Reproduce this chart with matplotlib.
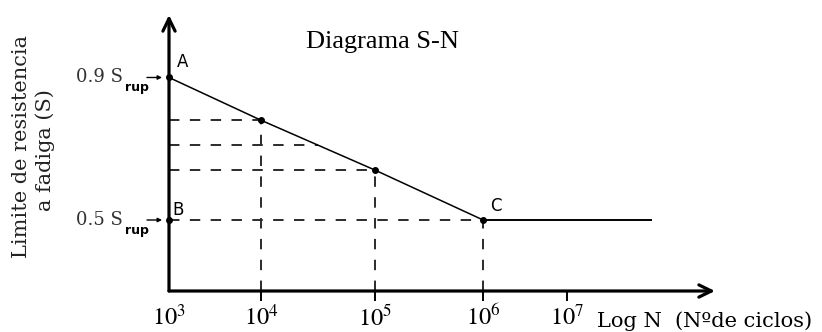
import numpy as np
import matplotlib
matplotlib.use("Agg")
import matplotlib.pyplot as plt

# ---- data -----------------------------------------------------------------
decade_exponents = [3, 4, 5, 6, 7]                  # tick decades of N
tick_labels = [f"$10^{{{e}}}$" for e in decade_exponents]
sn_cycles = [1e3, 1e4, 1e5, 1e6]                    # A, two points, C
sn_strength = [0.90, 0.78, 0.64, 0.50]              # fraction of S_rup
endurance_end = 1e8                                 # flat branch after C
endurance_strength = 0.50
mid_level = 0.71                                    # extra reading level
point_names = ["A", "B", "C"]
level_names = ["0.9 S", "0.5 S"]
level_values = [0.90, 0.50]

# ---- hand-spaced decade layout for the N axis ------------------------------
_EXP = np.array(decade_exponents, float)
_POS = np.array([0.0, 0.92, 2.06, 3.14, 3.98])


def _fwd(n):
    e = np.log10(np.clip(np.asarray(n, float), 1e-300, None))
    lo = _POS[0] + (e - _EXP[0]) * (_POS[1] - _POS[0])
    hi = _POS[-1] + (e - _EXP[-1]) * (_POS[-1] - _POS[-2])
    return np.where(e < _EXP[0], lo, np.where(e > _EXP[-1], hi, np.interp(e, _EXP, _POS)))


def _inv(p):
    p = np.asarray(p, float)
    lo = _EXP[0] + (p - _POS[0]) / (_POS[1] - _POS[0])
    hi = _EXP[-1] + (p - _POS[-1]) / (_POS[-1] - _POS[-2])
    e = np.where(p < _POS[0], lo, np.where(p > _POS[-1], hi, np.interp(p, _POS, _EXP)))
    return 10.0 ** e


plt.rcParams["mathtext.fontset"] = "stix"
plt.rcParams["lines.scale_dashes"] = False

W, H = 822, 332
fig = plt.figure(figsize=(W / 100, H / 100), dpi=100)
ax = fig.add_axes([169 / W, (H - 291) / H, 546 / W, 276 / H])
ax.set_xscale("function", functions=(_fwd, _inv))
ax.set_xlim(1e3, 10 ** 8.76)
ax.set_ylim(0.3007, 1.0754)
for s in ax.spines.values():
    s.set_visible(False)
ax.set_yticks([])

# axes drawn as arrows
axis_arrow = dict(arrowstyle="->,head_length=0.45,head_width=0.22", lw=2.3,
                  color="black", shrinkA=0, shrinkB=0, mutation_scale=20)
ax.annotate("", xy=(1, 0), xytext=(0, 0), xycoords="axes fraction",
            arrowprops=axis_arrow, zorder=5)
ax.annotate("", xy=(0, 1), xytext=(0, 0), xycoords="axes fraction",
            arrowprops=axis_arrow, zorder=5)

# decade ticks
ax.set_xticks([10.0 ** e for e in decade_exponents], labels=tick_labels)
ax.xaxis.set_minor_locator(matplotlib.ticker.NullLocator())
ax.tick_params(axis="x", direction="out", length=7, width=1.4, pad=3,
               labelsize=17.5, color="black")
ax.xaxis.get_major_ticks()[0].tick1line.set_visible(False)

dash_kw = dict(color="#2b2b2b", lw=1.4, dashes=(7.5, 7.5))
ybot = ax.get_ylim()[0]

# reading lines from the curve points
for n, s in zip(sn_cycles[1:], sn_strength[1:]):
    ax.plot([sn_cycles[0], n], [s, s], **dash_kw)
    ax.plot([n, n], [ybot, s], **dash_kw)

# extra level reaching the curve
pos_sn = _fwd(sn_cycles)
pos_mid = np.interp(mid_level, sn_strength[::-1], pos_sn[::-1])
ax.plot([sn_cycles[0], float(_inv(pos_mid))], [mid_level, mid_level], **dash_kw)

# S-N curve and endurance branch
ax.plot(sn_cycles, sn_strength, color="black", lw=1.1, zorder=4)
ax.plot([sn_cycles[-1], endurance_end], [endurance_strength] * 2,
        color="black", lw=1.4, zorder=4)
ax.plot(sn_cycles + [sn_cycles[0]], sn_strength + [endurance_strength], "o",
        color="black", ms=4, zorder=6, clip_on=False)

# point names
label_kw = dict(textcoords="offset pixels", fontsize=12, family="DejaVu Sans",
                ha="left", va="baseline")
ax.annotate(point_names[0], xy=(sn_cycles[0], sn_strength[0]), xytext=(8, 10), **label_kw)
ax.annotate(point_names[1], xy=(sn_cycles[0], endurance_strength), xytext=(3, 5), **label_kw)
ax.annotate(point_names[2], xy=(sn_cycles[-1], sn_strength[-1]), xytext=(7, 9), **label_kw)

# strength levels on the S axis
for name, v in zip(level_names, level_values):
    ax.annotate(name, xy=(1e3, v), xytext=(-46, -5), textcoords="offset pixels",
                ha="right", va="baseline", fontsize=13, family="DejaVu Serif",
                color="#333333", annotation_clip=False)
    ax.annotate("rup", xy=(1e3, v), xytext=(-44, -14), textcoords="offset pixels",
                ha="left", va="baseline", fontsize=9, family="DejaVu Sans",
                weight="bold", annotation_clip=False)
    ax.annotate("", xy=(1e3, v), xytext=(-22, 0), textcoords="offset pixels",
                arrowprops=dict(arrowstyle="-|>", lw=1.0, color="black",
                                shrinkA=0, shrinkB=5, mutation_scale=6),
                annotation_clip=False)

# titles and axis names
fig.text(306 / W, (H - 48) / H, "Diagrama S-N", family="Liberation Serif",
         fontsize=19, ha="left", va="baseline")
fig.text(597 / W, (H - 327) / H, "Log N  (Nºde ciclos)", family="DejaVu Serif",
         fontsize=15.1, ha="left", va="baseline")
fig.text(21.5 / W, (H - 147) / H, "Limite de resistencia", family="DejaVu Serif",
         fontsize=15, rotation=90, ha="center", va="center", color="#222222")
fig.text(45 / W, (H - 150) / H, "a fadiga (S)", family="DejaVu Serif",
         fontsize=15, rotation=90, ha="center", va="center", color="#222222")

fig.savefig("out.png", dpi=100)
